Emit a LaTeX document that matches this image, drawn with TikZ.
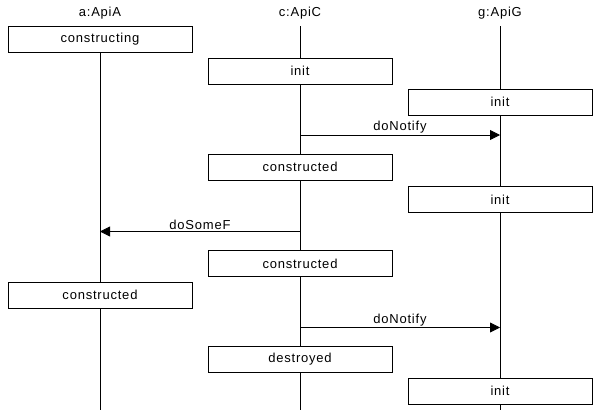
\documentclass[tikz,border=0pt]{standalone}
\usepackage{fontspec}
\setmainfont[LetterSpace=6]{Liberation Sans}
\usetikzlibrary{arrows.meta}

\tikzset{
  statebox/.style={draw, fill=white, minimum width=184pt, minimum height=26pt, inner sep=0pt, font=\fontsize{13}{15}\selectfont},
  head/.style={font=\fontsize{13}{15}\selectfont},
  msg/.style={-{Triangle[length=10pt,width=10pt]}, line width=0.8pt},
  msglabel/.style={above, inner sep=1pt, font=\fontsize{13}{15}\selectfont}
}

\begin{document}
\begin{tikzpicture}[x=1pt,y=-1pt,line width=0.8pt]
\useasboundingbox (0,0) rectangle (600,410);
% heads
\node[head] (hA) at (100,13) {a:ApiA};
\node[head] (hC) at (300,13) {c:ApiC};
\node[head] (hG) at (500,13) {g:ApiG};
% lifelines
\coordinate (topA) at (100,26);
\coordinate (topC) at (300,26);
\coordinate (topG) at (500,26);
\coordinate (endA) at (100,410);
\coordinate (endC) at (300,410);
\coordinate (endG) at (500,410);
\draw (topA) -- (endA);
\draw (topC) -- (endC);
\draw (topG) -- (endG);
% states
\node[statebox] (a1) at (100,39) {constructing};
\node[statebox] (c1) at (300,71) {init};
\node[statebox] (g1) at (500,102) {init};
\node[statebox] (c2) at (300,167) {constructed};
\node[statebox] (g2) at (500,199.5) {init};
\node[statebox] (c3) at (300,263.5) {constructed};
\node[statebox] (a2) at (100,295) {constructed};
\node[statebox] (c4) at (300,359) {destroyed};
\node[statebox] (g3) at (500,391) {init};
% messages
\coordinate (m1s) at (300,135);
\coordinate (m1e) at (500,135);
\draw[msg] (m1s) -- node[msglabel] {doNotify} (m1e);
\coordinate (m2s) at (300,231.5);
\coordinate (m2e) at (100,231.5);
\draw[msg] (m2s) -- node[msglabel] {doSomeF} (m2e);
\coordinate (m3s) at (300,327.5);
\coordinate (m3e) at (500,327.5);
\draw[msg] (m3s) -- node[msglabel] {doNotify} (m3e);
\end{tikzpicture}
\end{document}
